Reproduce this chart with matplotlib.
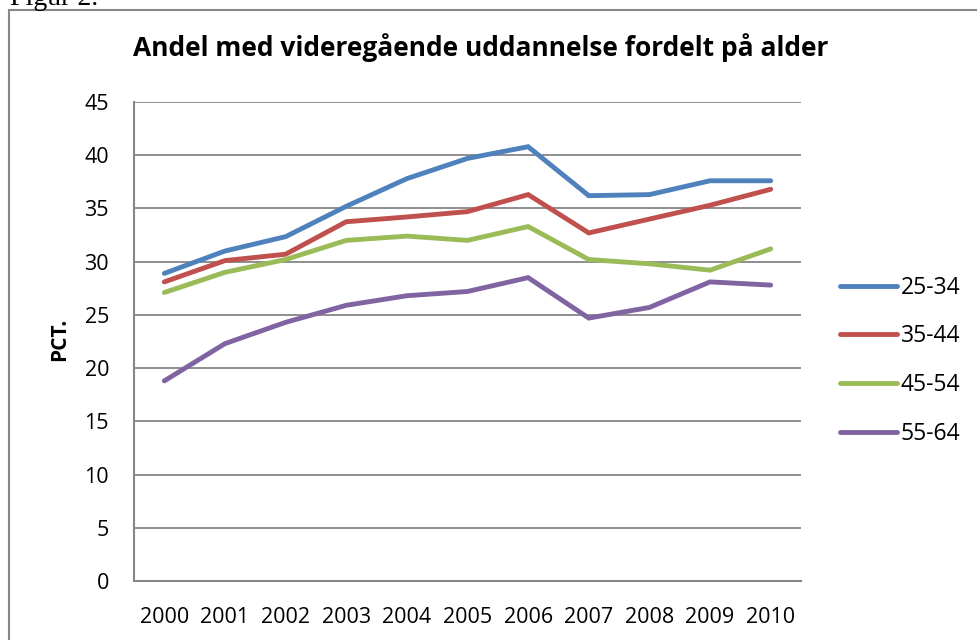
import matplotlib.pyplot as plt
from matplotlib.patches import Rectangle

# Data
years = ['2000', '2001', '2002', '2003', '2004', '2005', '2006', '2007', '2008', '2009', '2010']
age_25_34 = [28.9, 31.0, 32.35, 35.2, 37.8, 39.7, 40.8, 36.2, 36.3, 37.6, 37.6]
age_35_44 = [28.1, 30.1, 30.7, 33.75, 34.2, 34.7, 36.3, 32.7, 34.0, 35.3, 36.8]
age_45_54 = [27.1, 29.0, 30.2, 32.0, 32.4, 32.0, 33.3, 30.2, 29.8, 29.2, 31.2]
age_55_64 = [18.8, 22.3, 24.3, 25.9, 26.8, 27.2, 28.5, 24.7, 25.7, 28.1, 27.8]
series_labels = ['25-34', '35-44', '45-54', '55-64']
colors = ['#4F81BD', '#C0504D', '#9BBB59', '#8064A2']

plt.rcParams['font.family'] = ['Open Sans', 'DejaVu Sans']

fig = plt.figure(figsize=(9.78, 6.4), dpi=100)
W, H = 978, 640

# outer chart border (cut off at right/bottom like the scan)
fig.patches.append(Rectangle((9 / W, -0.05), 1.0, 1 - 10 / H + 0.05,
                             transform=fig.transFigure, fill=False,
                             edgecolor='#868686', linewidth=1.5))
fig.text(10 / W, 1 + 14 / H, 'Figur 2.', family='Liberation Serif',
         fontsize=20, va='top', ha='left')

ax = fig.add_axes([134 / W, 1 - 581 / H, (801 - 134) / W, (581 - 102) / H])
x = list(range(len(years)))
for vals, lab, c in zip([age_25_34, age_35_44, age_45_54, age_55_64], series_labels, colors):
    ax.plot(x, vals, color=c, linewidth=3.5, label=lab, solid_capstyle='round',
            solid_joinstyle='miter')

ax.set_xlim(-0.5, len(years) - 0.5)
ax.set_ylim(0, 45)
ax.set_yticks(range(0, 46, 5))
ax.set_xticks(x)
ax.set_xticklabels(years)
ax.tick_params(length=0, labelsize=15.5)
ax.tick_params(axis='x', pad=19)
ax.tick_params(axis='y', pad=18)
ax.grid(axis='y', color='#868686', linewidth=1.3)
ax.set_axisbelow(True)
for s in ['top', 'right']:
    ax.spines[s].set_visible(False)
for s in ['left', 'bottom']:
    ax.spines[s].set_color('#868686')
    ax.spines[s].set_linewidth(1.5)

ax.set_ylabel('PCT.', fontsize=15, fontweight='bold')
ax.yaxis.set_label_coords(-0.096, 0.505)

fig.text(481 / W, 1 - 48 / H, 'Andel med videregående uddannelse fordelt på alder',
         ha='center', va='center', fontsize=19, fontweight='bold')

leg = ax.legend(loc='center left', bbox_to_anchor=(1.0, 0.46), frameon=False,
                fontsize=16.5, handlelength=2.5, handletextpad=0.15,
                labelspacing=1.08, borderaxespad=1.3)

fig.savefig('out.png', dpi=100)
